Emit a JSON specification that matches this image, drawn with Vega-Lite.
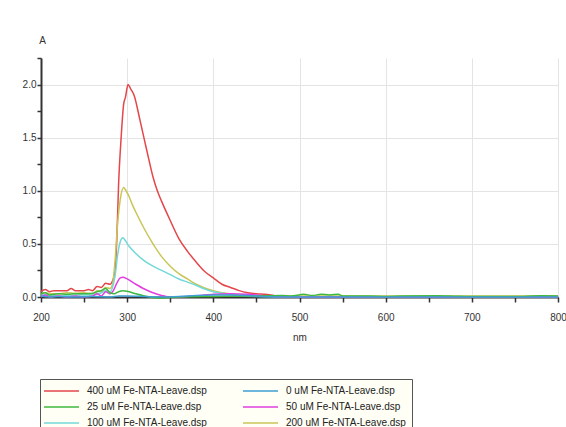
{
  "$schema": "https://vega.github.io/schema/vega-lite/v6.json",
  "width": 517,
  "height": 239,
  "autosize": {"type": "none"},
  "padding": {"left": 41, "top": 58, "right": 8, "bottom": 130},
  "background": "#ffffff",
  "config": {
    "view": {"stroke": null},
    "font": "Liberation Sans",
    "axis": {
      "labelFont": "Liberation Sans",
      "labelFontSize": 10,
      "labelColor": "#333333",
      "titleFont": "Liberation Sans",
      "titleFontSize": 10,
      "titleFontWeight": "normal",
      "titleColor": "#333333",
      "domainColor": "#333333",
      "domainWidth": 2,
      "tickColor": "#333333",
      "tickWidth": 1.5,
      "gridColor": "#e4e4e4",
      "gridWidth": 1
    }
  },
  "data": {
    "values": [
      {"s": "400 uM Fe-NTA-Leave.dsp", "nm": 200, "A": 0.05},
      {"s": "400 uM Fe-NTA-Leave.dsp", "nm": 205, "A": 0.07},
      {"s": "400 uM Fe-NTA-Leave.dsp", "nm": 210, "A": 0.05},
      {"s": "400 uM Fe-NTA-Leave.dsp", "nm": 215, "A": 0.06},
      {"s": "400 uM Fe-NTA-Leave.dsp", "nm": 220, "A": 0.06},
      {"s": "400 uM Fe-NTA-Leave.dsp", "nm": 230, "A": 0.06},
      {"s": "400 uM Fe-NTA-Leave.dsp", "nm": 235, "A": 0.08},
      {"s": "400 uM Fe-NTA-Leave.dsp", "nm": 240, "A": 0.06},
      {"s": "400 uM Fe-NTA-Leave.dsp", "nm": 250, "A": 0.06},
      {"s": "400 uM Fe-NTA-Leave.dsp", "nm": 255, "A": 0.07},
      {"s": "400 uM Fe-NTA-Leave.dsp", "nm": 260, "A": 0.06},
      {"s": "400 uM Fe-NTA-Leave.dsp", "nm": 265, "A": 0.1},
      {"s": "400 uM Fe-NTA-Leave.dsp", "nm": 270, "A": 0.09},
      {"s": "400 uM Fe-NTA-Leave.dsp", "nm": 275, "A": 0.13},
      {"s": "400 uM Fe-NTA-Leave.dsp", "nm": 280, "A": 0.12},
      {"s": "400 uM Fe-NTA-Leave.dsp", "nm": 283, "A": 0.15},
      {"s": "400 uM Fe-NTA-Leave.dsp", "nm": 286, "A": 0.25},
      {"s": "400 uM Fe-NTA-Leave.dsp", "nm": 288, "A": 0.55},
      {"s": "400 uM Fe-NTA-Leave.dsp", "nm": 290, "A": 1.05},
      {"s": "400 uM Fe-NTA-Leave.dsp", "nm": 293, "A": 1.5},
      {"s": "400 uM Fe-NTA-Leave.dsp", "nm": 296, "A": 1.82},
      {"s": "400 uM Fe-NTA-Leave.dsp", "nm": 298, "A": 1.88},
      {"s": "400 uM Fe-NTA-Leave.dsp", "nm": 301, "A": 2.0},
      {"s": "400 uM Fe-NTA-Leave.dsp", "nm": 304, "A": 1.96},
      {"s": "400 uM Fe-NTA-Leave.dsp", "nm": 308, "A": 1.9},
      {"s": "400 uM Fe-NTA-Leave.dsp", "nm": 315, "A": 1.66},
      {"s": "400 uM Fe-NTA-Leave.dsp", "nm": 320, "A": 1.48},
      {"s": "400 uM Fe-NTA-Leave.dsp", "nm": 325, "A": 1.3},
      {"s": "400 uM Fe-NTA-Leave.dsp", "nm": 330, "A": 1.13},
      {"s": "400 uM Fe-NTA-Leave.dsp", "nm": 335, "A": 1.0},
      {"s": "400 uM Fe-NTA-Leave.dsp", "nm": 340, "A": 0.9},
      {"s": "400 uM Fe-NTA-Leave.dsp", "nm": 350, "A": 0.72},
      {"s": "400 uM Fe-NTA-Leave.dsp", "nm": 360, "A": 0.55},
      {"s": "400 uM Fe-NTA-Leave.dsp", "nm": 370, "A": 0.43},
      {"s": "400 uM Fe-NTA-Leave.dsp", "nm": 380, "A": 0.33},
      {"s": "400 uM Fe-NTA-Leave.dsp", "nm": 390, "A": 0.24},
      {"s": "400 uM Fe-NTA-Leave.dsp", "nm": 400, "A": 0.18},
      {"s": "400 uM Fe-NTA-Leave.dsp", "nm": 410, "A": 0.12},
      {"s": "400 uM Fe-NTA-Leave.dsp", "nm": 420, "A": 0.09},
      {"s": "400 uM Fe-NTA-Leave.dsp", "nm": 430, "A": 0.06},
      {"s": "400 uM Fe-NTA-Leave.dsp", "nm": 440, "A": 0.04},
      {"s": "400 uM Fe-NTA-Leave.dsp", "nm": 450, "A": 0.03},
      {"s": "400 uM Fe-NTA-Leave.dsp", "nm": 460, "A": 0.025},
      {"s": "400 uM Fe-NTA-Leave.dsp", "nm": 470, "A": 0.015},
      {"s": "400 uM Fe-NTA-Leave.dsp", "nm": 480, "A": 0.005},
      {"s": "400 uM Fe-NTA-Leave.dsp", "nm": 500, "A": 0.0},
      {"s": "400 uM Fe-NTA-Leave.dsp", "nm": 600, "A": 0.0},
      {"s": "400 uM Fe-NTA-Leave.dsp", "nm": 700, "A": 0.0},
      {"s": "400 uM Fe-NTA-Leave.dsp", "nm": 780, "A": 0.005},
      {"s": "400 uM Fe-NTA-Leave.dsp", "nm": 790, "A": 0.01},
      {"s": "400 uM Fe-NTA-Leave.dsp", "nm": 800, "A": 0.005},

      {"s": "200 uM Fe-NTA-Leave.dsp", "nm": 200, "A": 0.03},
      {"s": "200 uM Fe-NTA-Leave.dsp", "nm": 205, "A": 0.04},
      {"s": "200 uM Fe-NTA-Leave.dsp", "nm": 210, "A": 0.03},
      {"s": "200 uM Fe-NTA-Leave.dsp", "nm": 220, "A": 0.03},
      {"s": "200 uM Fe-NTA-Leave.dsp", "nm": 230, "A": 0.04},
      {"s": "200 uM Fe-NTA-Leave.dsp", "nm": 240, "A": 0.035},
      {"s": "200 uM Fe-NTA-Leave.dsp", "nm": 250, "A": 0.04},
      {"s": "200 uM Fe-NTA-Leave.dsp", "nm": 260, "A": 0.03},
      {"s": "200 uM Fe-NTA-Leave.dsp", "nm": 265, "A": 0.06},
      {"s": "200 uM Fe-NTA-Leave.dsp", "nm": 270, "A": 0.05},
      {"s": "200 uM Fe-NTA-Leave.dsp", "nm": 275, "A": 0.09},
      {"s": "200 uM Fe-NTA-Leave.dsp", "nm": 280, "A": 0.08},
      {"s": "200 uM Fe-NTA-Leave.dsp", "nm": 283, "A": 0.12},
      {"s": "200 uM Fe-NTA-Leave.dsp", "nm": 286, "A": 0.35},
      {"s": "200 uM Fe-NTA-Leave.dsp", "nm": 289, "A": 0.7},
      {"s": "200 uM Fe-NTA-Leave.dsp", "nm": 292, "A": 0.92},
      {"s": "200 uM Fe-NTA-Leave.dsp", "nm": 296, "A": 1.03},
      {"s": "200 uM Fe-NTA-Leave.dsp", "nm": 298, "A": 1.01},
      {"s": "200 uM Fe-NTA-Leave.dsp", "nm": 302, "A": 0.95},
      {"s": "200 uM Fe-NTA-Leave.dsp", "nm": 306, "A": 0.87},
      {"s": "200 uM Fe-NTA-Leave.dsp", "nm": 310, "A": 0.8},
      {"s": "200 uM Fe-NTA-Leave.dsp", "nm": 320, "A": 0.64},
      {"s": "200 uM Fe-NTA-Leave.dsp", "nm": 330, "A": 0.5},
      {"s": "200 uM Fe-NTA-Leave.dsp", "nm": 340, "A": 0.38},
      {"s": "200 uM Fe-NTA-Leave.dsp", "nm": 350, "A": 0.29},
      {"s": "200 uM Fe-NTA-Leave.dsp", "nm": 360, "A": 0.22},
      {"s": "200 uM Fe-NTA-Leave.dsp", "nm": 370, "A": 0.17},
      {"s": "200 uM Fe-NTA-Leave.dsp", "nm": 380, "A": 0.12},
      {"s": "200 uM Fe-NTA-Leave.dsp", "nm": 390, "A": 0.085},
      {"s": "200 uM Fe-NTA-Leave.dsp", "nm": 400, "A": 0.06},
      {"s": "200 uM Fe-NTA-Leave.dsp", "nm": 410, "A": 0.04},
      {"s": "200 uM Fe-NTA-Leave.dsp", "nm": 420, "A": 0.03},
      {"s": "200 uM Fe-NTA-Leave.dsp", "nm": 430, "A": 0.02},
      {"s": "200 uM Fe-NTA-Leave.dsp", "nm": 440, "A": 0.015},
      {"s": "200 uM Fe-NTA-Leave.dsp", "nm": 450, "A": 0.01},
      {"s": "200 uM Fe-NTA-Leave.dsp", "nm": 500, "A": 0.01},
      {"s": "200 uM Fe-NTA-Leave.dsp", "nm": 600, "A": 0.01},
      {"s": "200 uM Fe-NTA-Leave.dsp", "nm": 700, "A": 0.01},
      {"s": "200 uM Fe-NTA-Leave.dsp", "nm": 800, "A": 0.01},

      {"s": "100 uM Fe-NTA-Leave.dsp", "nm": 200, "A": 0.02},
      {"s": "100 uM Fe-NTA-Leave.dsp", "nm": 210, "A": 0.02},
      {"s": "100 uM Fe-NTA-Leave.dsp", "nm": 220, "A": 0.01},
      {"s": "100 uM Fe-NTA-Leave.dsp", "nm": 240, "A": 0.02},
      {"s": "100 uM Fe-NTA-Leave.dsp", "nm": 260, "A": 0.02},
      {"s": "100 uM Fe-NTA-Leave.dsp", "nm": 270, "A": 0.04},
      {"s": "100 uM Fe-NTA-Leave.dsp", "nm": 275, "A": 0.06},
      {"s": "100 uM Fe-NTA-Leave.dsp", "nm": 280, "A": 0.05},
      {"s": "100 uM Fe-NTA-Leave.dsp", "nm": 283, "A": 0.09},
      {"s": "100 uM Fe-NTA-Leave.dsp", "nm": 286, "A": 0.2},
      {"s": "100 uM Fe-NTA-Leave.dsp", "nm": 289, "A": 0.4},
      {"s": "100 uM Fe-NTA-Leave.dsp", "nm": 292, "A": 0.52},
      {"s": "100 uM Fe-NTA-Leave.dsp", "nm": 295, "A": 0.557},
      {"s": "100 uM Fe-NTA-Leave.dsp", "nm": 298, "A": 0.53},
      {"s": "100 uM Fe-NTA-Leave.dsp", "nm": 302, "A": 0.48},
      {"s": "100 uM Fe-NTA-Leave.dsp", "nm": 310, "A": 0.41},
      {"s": "100 uM Fe-NTA-Leave.dsp", "nm": 320, "A": 0.34},
      {"s": "100 uM Fe-NTA-Leave.dsp", "nm": 330, "A": 0.29},
      {"s": "100 uM Fe-NTA-Leave.dsp", "nm": 340, "A": 0.25},
      {"s": "100 uM Fe-NTA-Leave.dsp", "nm": 350, "A": 0.21},
      {"s": "100 uM Fe-NTA-Leave.dsp", "nm": 360, "A": 0.17},
      {"s": "100 uM Fe-NTA-Leave.dsp", "nm": 370, "A": 0.14},
      {"s": "100 uM Fe-NTA-Leave.dsp", "nm": 380, "A": 0.11},
      {"s": "100 uM Fe-NTA-Leave.dsp", "nm": 390, "A": 0.075},
      {"s": "100 uM Fe-NTA-Leave.dsp", "nm": 400, "A": 0.05},
      {"s": "100 uM Fe-NTA-Leave.dsp", "nm": 410, "A": 0.035},
      {"s": "100 uM Fe-NTA-Leave.dsp", "nm": 420, "A": 0.02},
      {"s": "100 uM Fe-NTA-Leave.dsp", "nm": 430, "A": 0.012},
      {"s": "100 uM Fe-NTA-Leave.dsp", "nm": 450, "A": 0.005},
      {"s": "100 uM Fe-NTA-Leave.dsp", "nm": 500, "A": 0.0},
      {"s": "100 uM Fe-NTA-Leave.dsp", "nm": 800, "A": 0.0},

      {"s": "50 uM Fe-NTA-Leave.dsp", "nm": 200, "A": 0.0},
      {"s": "50 uM Fe-NTA-Leave.dsp", "nm": 205, "A": 0.02},
      {"s": "50 uM Fe-NTA-Leave.dsp", "nm": 210, "A": 0.0},
      {"s": "50 uM Fe-NTA-Leave.dsp", "nm": 220, "A": 0.01},
      {"s": "50 uM Fe-NTA-Leave.dsp", "nm": 230, "A": 0.0},
      {"s": "50 uM Fe-NTA-Leave.dsp", "nm": 240, "A": 0.01},
      {"s": "50 uM Fe-NTA-Leave.dsp", "nm": 250, "A": 0.0},
      {"s": "50 uM Fe-NTA-Leave.dsp", "nm": 260, "A": 0.01},
      {"s": "50 uM Fe-NTA-Leave.dsp", "nm": 265, "A": 0.03},
      {"s": "50 uM Fe-NTA-Leave.dsp", "nm": 270, "A": 0.01},
      {"s": "50 uM Fe-NTA-Leave.dsp", "nm": 275, "A": 0.05},
      {"s": "50 uM Fe-NTA-Leave.dsp", "nm": 280, "A": 0.03},
      {"s": "50 uM Fe-NTA-Leave.dsp", "nm": 284, "A": 0.06},
      {"s": "50 uM Fe-NTA-Leave.dsp", "nm": 288, "A": 0.13},
      {"s": "50 uM Fe-NTA-Leave.dsp", "nm": 292, "A": 0.18},
      {"s": "50 uM Fe-NTA-Leave.dsp", "nm": 295, "A": 0.186},
      {"s": "50 uM Fe-NTA-Leave.dsp", "nm": 300, "A": 0.17},
      {"s": "50 uM Fe-NTA-Leave.dsp", "nm": 310, "A": 0.12},
      {"s": "50 uM Fe-NTA-Leave.dsp", "nm": 320, "A": 0.075},
      {"s": "50 uM Fe-NTA-Leave.dsp", "nm": 330, "A": 0.04},
      {"s": "50 uM Fe-NTA-Leave.dsp", "nm": 340, "A": 0.015},
      {"s": "50 uM Fe-NTA-Leave.dsp", "nm": 350, "A": 0.0},
      {"s": "50 uM Fe-NTA-Leave.dsp", "nm": 360, "A": 0.0},
      {"s": "50 uM Fe-NTA-Leave.dsp", "nm": 370, "A": 0.005},
      {"s": "50 uM Fe-NTA-Leave.dsp", "nm": 380, "A": 0.01},
      {"s": "50 uM Fe-NTA-Leave.dsp", "nm": 390, "A": 0.02},
      {"s": "50 uM Fe-NTA-Leave.dsp", "nm": 400, "A": 0.025},
      {"s": "50 uM Fe-NTA-Leave.dsp", "nm": 420, "A": 0.03},
      {"s": "50 uM Fe-NTA-Leave.dsp", "nm": 440, "A": 0.025},
      {"s": "50 uM Fe-NTA-Leave.dsp", "nm": 455, "A": 0.015},
      {"s": "50 uM Fe-NTA-Leave.dsp", "nm": 470, "A": 0.005},
      {"s": "50 uM Fe-NTA-Leave.dsp", "nm": 500, "A": 0.0},
      {"s": "50 uM Fe-NTA-Leave.dsp", "nm": 800, "A": 0.0},

      {"s": "25 uM Fe-NTA-Leave.dsp", "nm": 200, "A": 0.03},
      {"s": "25 uM Fe-NTA-Leave.dsp", "nm": 205, "A": 0.04},
      {"s": "25 uM Fe-NTA-Leave.dsp", "nm": 210, "A": 0.02},
      {"s": "25 uM Fe-NTA-Leave.dsp", "nm": 220, "A": 0.03},
      {"s": "25 uM Fe-NTA-Leave.dsp", "nm": 230, "A": 0.025},
      {"s": "25 uM Fe-NTA-Leave.dsp", "nm": 240, "A": 0.03},
      {"s": "25 uM Fe-NTA-Leave.dsp", "nm": 250, "A": 0.03},
      {"s": "25 uM Fe-NTA-Leave.dsp", "nm": 260, "A": 0.035},
      {"s": "25 uM Fe-NTA-Leave.dsp", "nm": 265, "A": 0.05},
      {"s": "25 uM Fe-NTA-Leave.dsp", "nm": 270, "A": 0.06},
      {"s": "25 uM Fe-NTA-Leave.dsp", "nm": 275, "A": 0.08},
      {"s": "25 uM Fe-NTA-Leave.dsp", "nm": 280, "A": 0.04},
      {"s": "25 uM Fe-NTA-Leave.dsp", "nm": 285, "A": 0.03},
      {"s": "25 uM Fe-NTA-Leave.dsp", "nm": 290, "A": 0.05},
      {"s": "25 uM Fe-NTA-Leave.dsp", "nm": 295, "A": 0.06},
      {"s": "25 uM Fe-NTA-Leave.dsp", "nm": 300, "A": 0.055},
      {"s": "25 uM Fe-NTA-Leave.dsp", "nm": 310, "A": 0.03},
      {"s": "25 uM Fe-NTA-Leave.dsp", "nm": 320, "A": 0.01},
      {"s": "25 uM Fe-NTA-Leave.dsp", "nm": 330, "A": -0.005},
      {"s": "25 uM Fe-NTA-Leave.dsp", "nm": 340, "A": -0.01},
      {"s": "25 uM Fe-NTA-Leave.dsp", "nm": 350, "A": -0.005},
      {"s": "25 uM Fe-NTA-Leave.dsp", "nm": 360, "A": 0.0},
      {"s": "25 uM Fe-NTA-Leave.dsp", "nm": 400, "A": 0.005},
      {"s": "25 uM Fe-NTA-Leave.dsp", "nm": 450, "A": 0.01},
      {"s": "25 uM Fe-NTA-Leave.dsp", "nm": 480, "A": 0.015},
      {"s": "25 uM Fe-NTA-Leave.dsp", "nm": 490, "A": 0.01},
      {"s": "25 uM Fe-NTA-Leave.dsp", "nm": 505, "A": 0.025},
      {"s": "25 uM Fe-NTA-Leave.dsp", "nm": 515, "A": 0.015},
      {"s": "25 uM Fe-NTA-Leave.dsp", "nm": 525, "A": 0.025},
      {"s": "25 uM Fe-NTA-Leave.dsp", "nm": 535, "A": 0.02},
      {"s": "25 uM Fe-NTA-Leave.dsp", "nm": 545, "A": 0.025},
      {"s": "25 uM Fe-NTA-Leave.dsp", "nm": 550, "A": 0.01},
      {"s": "25 uM Fe-NTA-Leave.dsp", "nm": 580, "A": 0.01},
      {"s": "25 uM Fe-NTA-Leave.dsp", "nm": 600, "A": 0.005},
      {"s": "25 uM Fe-NTA-Leave.dsp", "nm": 620, "A": 0.01},
      {"s": "25 uM Fe-NTA-Leave.dsp", "nm": 660, "A": 0.012},
      {"s": "25 uM Fe-NTA-Leave.dsp", "nm": 680, "A": 0.008},
      {"s": "25 uM Fe-NTA-Leave.dsp", "nm": 700, "A": 0.005},
      {"s": "25 uM Fe-NTA-Leave.dsp", "nm": 760, "A": 0.005},
      {"s": "25 uM Fe-NTA-Leave.dsp", "nm": 780, "A": 0.012},
      {"s": "25 uM Fe-NTA-Leave.dsp", "nm": 800, "A": 0.01},

      {"s": "0 uM Fe-NTA-Leave.dsp", "nm": 200, "A": 0.01},
      {"s": "0 uM Fe-NTA-Leave.dsp", "nm": 210, "A": 0.0},
      {"s": "0 uM Fe-NTA-Leave.dsp", "nm": 220, "A": 0.005},
      {"s": "0 uM Fe-NTA-Leave.dsp", "nm": 240, "A": 0.0},
      {"s": "0 uM Fe-NTA-Leave.dsp", "nm": 260, "A": 0.005},
      {"s": "0 uM Fe-NTA-Leave.dsp", "nm": 280, "A": 0.0},
      {"s": "0 uM Fe-NTA-Leave.dsp", "nm": 290, "A": 0.01},
      {"s": "0 uM Fe-NTA-Leave.dsp", "nm": 300, "A": 0.01},
      {"s": "0 uM Fe-NTA-Leave.dsp", "nm": 320, "A": 0.005},
      {"s": "0 uM Fe-NTA-Leave.dsp", "nm": 340, "A": 0.0},
      {"s": "0 uM Fe-NTA-Leave.dsp", "nm": 360, "A": 0.005},
      {"s": "0 uM Fe-NTA-Leave.dsp", "nm": 380, "A": 0.015},
      {"s": "0 uM Fe-NTA-Leave.dsp", "nm": 400, "A": 0.02},
      {"s": "0 uM Fe-NTA-Leave.dsp", "nm": 420, "A": 0.02},
      {"s": "0 uM Fe-NTA-Leave.dsp", "nm": 440, "A": 0.015},
      {"s": "0 uM Fe-NTA-Leave.dsp", "nm": 460, "A": 0.005},
      {"s": "0 uM Fe-NTA-Leave.dsp", "nm": 500, "A": 0.0},
      {"s": "0 uM Fe-NTA-Leave.dsp", "nm": 800, "A": 0.0}
    ]
  },
  "mark": {"type": "line", "strokeWidth": 1.5, "clip": false, "interpolate": "monotone"},
  "encoding": {
    "x": {
      "field": "nm",
      "type": "quantitative",
      "scale": {"domain": [200, 800], "nice": false, "zero": false},
      "axis": {
        "title": "nm",
        "values": [200, 250, 300, 350, 400, 450, 500, 550, 600, 650, 700, 750, 800],
        "labelExpr": "datum.value % 100 == 0 ? datum.label : ''",
        "tickSize": 5,
        "labelPadding": 10,
        "titlePadding": 10,
        "labelFlush": false,
        "labelOverlap": false,
        "grid": true,
        "gridOpacity": {"condition": {"test": "datum.value % 100 == 0 && datum.value > 200", "value": 1}, "value": 0}
      }
    },
    "y": {
      "field": "A",
      "type": "quantitative",
      "scale": {"domain": [0, 2.25], "nice": false, "zero": false},
      "axis": {
        "title": "A",
        "titleAngle": 0,
        "titleX": 1,
        "titleY": -18,
        "titleAlign": "center",
        "titleBaseline": "middle",
        "values": [0, 0.25, 0.5, 0.75, 1, 1.25, 1.5, 1.75, 2, 2.25],
        "labelExpr": "round(datum.value * 4) % 2 == 0 ? format(datum.value, '.1f') : ''",
        "tickSize": 4,
        "labelPadding": 1,
        "labelFlush": false,
        "labelOverlap": false,
        "grid": true,
        "gridOpacity": {"condition": {"test": "round(datum.value * 4) % 2 == 0 && datum.value > 0 && datum.value < 2.2", "value": 1}, "value": 0}
      }
    },
    "color": {
      "field": "s",
      "type": "nominal",
      "scale": {
        "domain": ["400 uM Fe-NTA-Leave.dsp", "25 uM Fe-NTA-Leave.dsp", "100 uM Fe-NTA-Leave.dsp", "0 uM Fe-NTA-Leave.dsp", "50 uM Fe-NTA-Leave.dsp", "200 uM Fe-NTA-Leave.dsp"],
        "range": ["#e4474b", "#3fb83f", "#72d8d8", "#3d9fd3", "#e03ee0", "#c9c657"]
      },
      "legend": {
        "title": null,
        "orient": "none",
        "legendX": -1,
        "legendY": 321,
        "columns": 2,
        "direction": "vertical",
        "symbolType": "M-1.6,0H5.4",
        "symbolSize": 100,
        "symbolStrokeWidth": 1.5,
        "labelFont": "Liberation Sans",
        "labelFontSize": 10,
        "labelColor": "#222222",
        "labelOffset": 29,
        "columnPadding": 33,
        "rowPadding": 5,
        "padding": 6,
        "fillColor": "#fffff6",
        "strokeColor": "#555555",
        "labelLimit": 300
      }
    }
  }
}
